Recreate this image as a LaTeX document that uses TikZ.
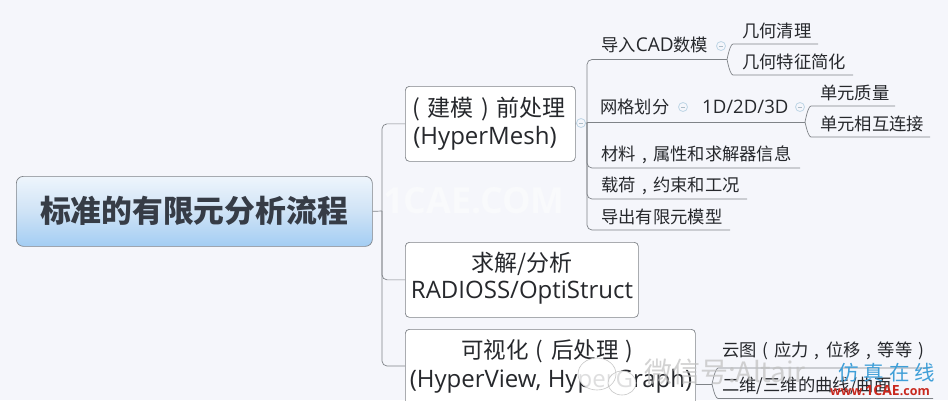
\documentclass[tikz,border=0pt]{standalone}
\usepackage{fontspec}
\setmainfont{Open Sans}
\newfontfamily\cjk{Noto Sans CJK SC}
\definecolor{bgc}{HTML}{F5F6FB}
\definecolor{wmc}{HTML}{F9FAFC}
\definecolor{linec}{HTML}{7F8388}
\definecolor{inkc}{HTML}{26282C}
\definecolor{rootink}{HTML}{363C46}
\definecolor{circc}{HTML}{BFD6E6}
\definecolor{rtop}{HTML}{EEF5FC}
\definecolor{rmid}{HTML}{CFE3F6}
\definecolor{rbot}{HTML}{A3CDF3}
\definecolor{fzc}{HTML}{3F9FD8}
\definecolor{cae}{HTML}{C8281E}
\newcommand{\fw}[1]{\makebox[1em][c]{#1}}
\newcommand{\fsz}[1]{\fontsize{#1}{#1}\selectfont}
\tikzset{
  x=1pt,y=-1pt,
  box/.style={draw=linec,line width=0.7pt,rounded corners=4pt,fill=white,inner sep=0pt,anchor=north west,text=inkc},
  rootbox/.style={draw=linec,line width=0.7pt,rounded corners=7pt,inner sep=0pt,anchor=north west},
  lab/.style={anchor=west,inner sep=0pt,text=inkc,font=\cjk\fsz{17.3}},
  biglab/.style={anchor=center,inner sep=0pt,text=inkc,font=\fsz{24}},
  conn/.style={draw=linec,line width=0.7pt,rounded corners=5pt},
  tog/.style={circle,draw=circc,fill=bgc,line width=0.8pt,minimum size=9pt,inner sep=0pt},
  togbar/.style={draw=circc!70!gray,line width=0.6pt},
}
\begin{document}
\begin{tikzpicture}
\useasboundingbox (0,0) rectangle (948,400);
\fill[bgc] (0,0) rectangle (948,400);
% pale watermark
\node[inner sep=0pt,text=wmc,font=\bfseries\fsz{36}] (wmark) at (474,201) {1CAE.COM};

% root
\node[rootbox,minimum width=356pt,minimum height=70pt,top color=rtop,bottom color=rbot,middle color=rmid] (root) at (16,176) {};
\node[inner sep=0pt,text=rootink,font=\cjk\bfseries\fsz{30.8}] (rootlab) at (194,211) {标准的有限元分析流程};

% main trunk
\coordinate (rootout) at (root.east);
\node[box,minimum width=170pt,minimum height=75pt] (pre) at (405,86) {};
\node[box,minimum width=233pt,minimum height=75pt] (solve) at (405,242) {};
\node[box,minimum width=290pt,minimum height=90pt] (post) at (405,329) {};
\coordinate (tr) at (382,211);
\draw[conn] (rootout) -- (tr);
\draw[conn] (pre.west) -| (tr);
\draw[conn] (solve.west) -| (tr);
\draw[conn] (405,366) -| (tr);

% node labels
\node[biglab,font=\fsz{23}] (pre1) at (485,109) {{\cjk\fw{(}建模\fw{)}前处理}};
\node[biglab] (pre2) at (485,138) {(HyperMesh)};
\node[biglab,font=\fsz{23}] (solve1) at (522,264) {{\cjk 求解/分析}};
\node[biglab] (solve2) at (522,293) {RADIOSS/OptiStruct};
\node[biglab,font=\fsz{22.5}] (post1) at (551,351) {{\cjk 可视化\fw{(}后处理\fw{)}}};
\node[biglab] (post2) at (551,381) {(HyperView, HyperGraph)};

% second trunk
\coordinate (t2) at (587,123);
\draw[conn] (pre.east) -- (t2);
\coordinate (a1) at (727,59.5);
\coordinate (b1) at (805,122);
\coordinate (c1) at (800,168);
\coordinate (d1) at (747,199);
\coordinate (e1) at (730,230);
\draw[conn] (a1) -- (587,59.5) -- (t2);
\draw[conn] (t2 |- b1) -- (b1);
\draw[conn] (c1) -- (587,168) -- (t2);
\draw[conn] (d1) -- (587,199) -- (t2);
\draw[conn] (e1) -- (587,230) -- (t2);

% leaf branches
\coordinate (a2) at (818,44);
\coordinate (a3) at (853,75);
\draw[conn] (a1) .. controls (729,50) and (731,44) .. (738,44) -- (a2);
\draw[conn] (a1) .. controls (729,69) and (731,75) .. (738,75) -- (a3);
\coordinate (b2) at (895,106);
\coordinate (b3) at (930,137);
\draw[conn] (b1) .. controls (807,112) and (809,106) .. (816,106) -- (b2);
\draw[conn] (b1) .. controls (807,131) and (809,137) .. (816,137) -- (b3);

% toggles
\node[tog] (tg1) at (581,123) {};
\node[tog] (tg2) at (721,46) {};
\node[tog] (tg3) at (683,107) {};
\node[tog] (tg4) at (800,107) {};
\foreach \t in {tg1,tg2,tg3,tg4}{\draw[togbar] ([xshift=-2.2pt]\t.center) -- ([xshift=2.2pt]\t.center);}

% leaves
\node[lab] (l1) at (601,45) {导入{\fontspec{Open Sans}\fsz{19}CAD}数模};
\node[lab] (l2) at (742,31) {几何清理};
\node[lab] (l3) at (742,62) {几何特征简化};
\node[lab] (l4) at (600,107) {网格划分};
\node[lab,font=\fsz{18.6}] (l5) at (702,107) {1D/2D/3D};
\node[lab] (l6) at (820,93) {单元质量};
\node[lab] (l7) at (820,124) {单元相互连接};
\node[lab] (l8) at (601,155) {材料\fw{,}属性和求解器信息};
\node[lab] (l9) at (601,186) {载荷\fw{,}约束和工况};
\node[lab] (l10) at (601,217) {导出有限元模型};

% children of post
\coordinate (p1) at (712,384);
\coordinate (p2) at (933,398.5);
\draw[conn] (post.east |- p1) -- (p1);
\draw[conn] (p1) .. controls (714,393) and (716,398.5) .. (723,398.5) -- (p2);
\draw[conn] (p1) .. controls (714,375) and (716,368) .. (723,368) -- (930,368);
\node[lab] (q1) at (722,351) {云图\fw{(}应力\fw{,}位移\fw{,}等等\fw{)}};
\node[lab] (q2) at (722,386) {二维/三维的曲线/曲面};

% overlaid watermarks
\fill[white,opacity=.85] (597,374) ellipse (19pt and 16pt);
\fill[white,opacity=.85] (622,383) ellipse (14pt and 12pt);
\draw[gray!45,line width=0.6pt] (597,374) ellipse (19pt and 16pt);
\draw[gray!45,line width=0.6pt] (622,383) ellipse (14pt and 12pt);
\node[anchor=west,inner sep=0pt,text=gray!50,opacity=.7,font=\cjk\fsz{28}] (wm2) at (644,372) {微信号:Altair};
\node[anchor=west,inner sep=0pt,text=fzc,font=\cjk\fsz{20.5}] (wm3) at (838,373) {仿\hspace{5pt}真\hspace{5pt}在\hspace{5pt}线};
\node[anchor=west,inner sep=0pt,text=cae,font=\bfseries\fsz{12.5}] (wm4) at (830,391) {www.{\fsz{14}1CAE}.com};
\end{tikzpicture}
\end{document}
